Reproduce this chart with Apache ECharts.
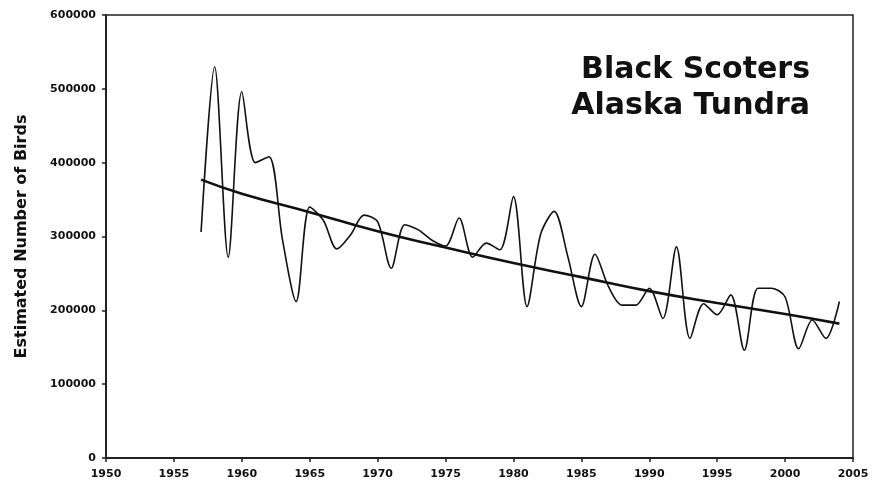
<!DOCTYPE html>
<html>
<head>
<meta charset="utf-8">
<script src="https://cdn.jsdelivr.net/npm/echarts@6/dist/echarts.min.js"></script>
<style>
html,body{margin:0;padding:0;background:#fff;}
#chart{width:877px;height:482px;}
</style>
</head>
<body>
<div id="chart"></div>
<script>
const years = [1957,1958,1959,1960,1961,1962,1963,1964,1965,1966,1967,1968,1969,1970,1971,1972,1973,1974,1975,1976,1977,1978,1979,1980,1981,1982,1983,1984,1985,1986,1987,1988,1989,1990,1991,1992,1993,1994,1995,1996,1997,1998,1999,2000,2001,2002,2003,2004];
const birds = [306000,530000,272000,496000,400000,408000,295000,212000,340000,322000,283000,302000,329000,320000,257000,316000,309000,295000,287000,325000,272000,291000,282000,354000,205000,303000,334000,273000,205000,276000,232000,207000,207000,230000,189000,286000,162000,209000,194000,221000,146000,230000,230000,218000,148000,187000,162000,212000];
const trendYears = [1957,1960,1965,1970,1975,1980,1985,1990,1995,2000,2004];
const trendValues = [377000,358000,333000,307000,285000,264000,245000,226000,210000,195000,182000];
const xTicks = [1950,1955,1960,1965,1970,1975,1980,1985,1990,1995,2000,2005];
const yTicks = [0,100000,200000,300000,400000,500000,600000];
const titleLines = ['Black Scoters','Alaska Tundra'];
const yAxisTitle = 'Estimated Number of Birds';

const chart = echarts.init(document.getElementById('chart'), null, {renderer:'canvas'});
const labelFont = {fontFamily:'DejaVu Sans', fontWeight:'bold', fontSize:11, color:'#111'};
chart.setOption({
  animation:false,
  backgroundColor:'#fff',
  grid:{left:106, right:24, top:15, bottom:24, show:true, borderColor:'#222', borderWidth:1.5},
  xAxis:{
    type:'value', min:xTicks[0], max:xTicks[xTicks.length-1], interval:5,
    axisLine:{show:true, onZero:false, lineStyle:{color:'#222', width:2}},
    axisTick:{show:true, inside:false, length:4, lineStyle:{color:'#222', width:1.5}},
    splitLine:{show:false},
    axisLabel:Object.assign({margin:11, formatter:v=>String(v)}, labelFont)
  },
  yAxis:{
    type:'value', min:yTicks[0], max:yTicks[yTicks.length-1], interval:100000,
    name:yAxisTitle, nameLocation:'middle', nameGap:76,
    nameTextStyle:{fontFamily:'DejaVu Sans', fontWeight:'bold', fontSize:16, color:'#111'},
    axisLine:{show:true, lineStyle:{color:'#222', width:2}},
    axisTick:{show:true, inside:false, length:4, lineStyle:{color:'#222', width:1.5}},
    splitLine:{show:false},
    axisLabel:Object.assign({margin:10, formatter:v=>String(v)}, labelFont)
  },
  graphic:[{
    type:'text', x:810, y:52,
    style:{text:titleLines.join('\n'), textAlign:'right', textVerticalAlign:'top',
      font:'bold 30px "DejaVu Sans"', lineHeight:36, fill:'#111'}
  }],
  series:[
    {type:'line', data:years.map((y,i)=>[y,birds[i]]), smooth:0.3, showSymbol:false,
     lineStyle:{color:'#111', width:1.6}},
    {type:'line', data:trendYears.map((y,i)=>[y,trendValues[i]]), smooth:true, showSymbol:false,
     lineStyle:{color:'#111', width:2.6}}
  ]
});
</script>
</body>
</html>
